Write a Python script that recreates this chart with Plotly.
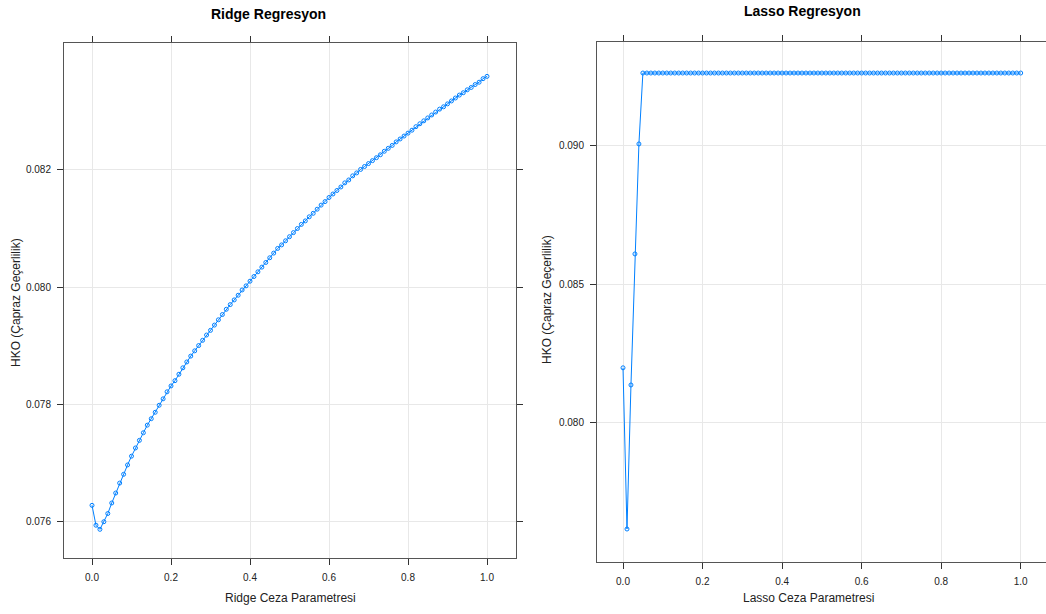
import plotly.graph_objects as go

W, H = 1046, 614

lambda_grid = [round(i * 0.01, 2) for i in range(101)]

ridge_rmse = [
    0.07627, 0.07593, 0.07586, 0.07599, 0.07613, 0.07631, 0.07648, 0.07665, 0.07680, 0.07696,
    0.07711, 0.07725, 0.07738, 0.07751, 0.07764, 0.07775, 0.07786, 0.07798, 0.07809, 0.07821,
    0.07831, 0.07840, 0.07851, 0.07862, 0.07872, 0.07882, 0.07891, 0.07900, 0.07909, 0.07918,
    0.07926, 0.07935, 0.07944, 0.07953, 0.07962, 0.07970, 0.07978, 0.07986, 0.07995, 0.08002,
    0.08010, 0.08018, 0.08026, 0.08034, 0.08042, 0.08050, 0.08058, 0.08066, 0.08072, 0.08079,
    0.08086, 0.08093, 0.08100, 0.08107, 0.08113, 0.08120, 0.08126, 0.08133, 0.08140, 0.08146,
    0.08153, 0.08159, 0.08165, 0.08171, 0.08178, 0.08183, 0.08190, 0.08195, 0.08201, 0.08206,
    0.08211, 0.08216, 0.08221, 0.08226, 0.08232, 0.08237, 0.08242, 0.08248, 0.08253, 0.08258,
    0.08263, 0.08268, 0.08274, 0.08279, 0.08284, 0.08289, 0.08294, 0.08299, 0.08304, 0.08308,
    0.08313, 0.08318, 0.08323, 0.08328, 0.08332, 0.08337, 0.08341, 0.08346, 0.08350, 0.08356,
    0.08360,
]

lasso_rmse = [0.08199, 0.07617, 0.08137, 0.08610, 0.09007] + [0.09263] * 96

ridge_yticks = [0.076, 0.078, 0.080, 0.082]
lasso_yticks = [0.080, 0.085, 0.090]
xticks = [0.0, 0.2, 0.4, 0.6, 0.8, 1.0]

titles = ["Ridge Regresyon", "Lasso Regresyon"]
xlabels = ["Ridge Ceza Parametresi", "Lasso Ceza Parametresi"]
ylabel = "HKO (Çapraz Geçerlilik)"

BLUE = "#0080ff"
FONT = "Liberation Sans, Arial, sans-serif"

def px(x):
    return min(1.0, max(0.0, x / W))

def py(y):
    return min(1.0, max(0.0, 1 - y / H))

fig = go.Figure()
fig.add_trace(go.Scatter(
    x=lambda_grid, y=ridge_rmse, mode="lines+markers", xaxis="x", yaxis="y",
    line=dict(color=BLUE, width=1),
    marker=dict(symbol="circle-open", size=4, color=BLUE, line=dict(width=1, color=BLUE)),
    showlegend=False,
))
fig.add_trace(go.Scatter(
    x=lambda_grid, y=lasso_rmse, mode="lines+markers", xaxis="x2", yaxis="y2",
    line=dict(color=BLUE, width=1),
    marker=dict(symbol="circle-open", size=4, color=BLUE, line=dict(width=1, color=BLUE)),
    showlegend=False,
))

axis_common = dict(
    showline=True, linecolor="#555555", linewidth=1,
    ticks="outside", ticklen=6, tickcolor="#333333", tickwidth=1,
    showgrid=True, gridcolor="#e8e8e8", gridwidth=1,
    zeroline=False, tickfont=dict(family=FONT, size=10, color="#222222"),
    ticklabelstandoff=4,
)

fig.update_layout(
    width=W, height=H,
    margin=dict(l=0, r=0, t=0, b=0),
    paper_bgcolor="white", plot_bgcolor="white",
    xaxis=dict(domain=[px(64), px(516)], anchor="y", range=[-0.0709, 1.0734],
               tickvals=xticks, ticktext=[f"{v:.1f}" for v in xticks], mirror="ticks", **axis_common),
    yaxis=dict(domain=[py(558), py(43)], anchor="x", range=[0.07537, 0.08417],
               tickvals=ridge_yticks, ticktext=[f"{v:.3f}" for v in ridge_yticks], mirror="ticks", **axis_common),
    xaxis2=dict(domain=[px(597), 1.0], anchor="y2", range=[-0.0654, 1.0636],
                tickvals=xticks, ticktext=[f"{v:.1f}" for v in xticks], mirror="ticks", **axis_common),
    yaxis2=dict(domain=[py(562), py(42)], anchor="x2", range=[0.07498, 0.09375],
                tickvals=lasso_yticks, ticktext=[f"{v:.3f}" for v in lasso_yticks], mirror=False, **axis_common),
)

ann = []
ann.append(dict(text=f"<b>{titles[0]}</b>", x=px(268), y=py(14), xref="paper", yref="paper",
                showarrow=False, font=dict(family=FONT, size=14, color="black"), xanchor="center", yanchor="middle"))
ann.append(dict(text=f"<b>{titles[1]}</b>", x=px(802), y=py(11), xref="paper", yref="paper",
                showarrow=False, font=dict(family=FONT, size=14, color="black"), xanchor="center", yanchor="middle"))
ann.append(dict(text=xlabels[0], x=px(290), y=py(598), xref="paper", yref="paper",
                showarrow=False, font=dict(family=FONT, size=12, color="#222222"), xanchor="center", yanchor="middle"))
ann.append(dict(text=xlabels[1], x=px(808), y=py(598), xref="paper", yref="paper",
                showarrow=False, font=dict(family=FONT, size=12, color="#222222"), xanchor="center", yanchor="middle"))
ann.append(dict(text=ylabel, x=px(16), y=py(303), xref="paper", yref="paper", textangle=-90,
                showarrow=False, font=dict(family=FONT, size=12, color="#222222"), xanchor="center", yanchor="middle"))
ann.append(dict(text=ylabel, x=px(547), y=py(300), xref="paper", yref="paper", textangle=-90,
                showarrow=False, font=dict(family=FONT, size=12, color="#222222"), xanchor="center", yanchor="middle"))
fig.update_layout(annotations=ann)

fig.write_html("out.html", config={"displayModeBar": False},
               post_script="document.body.style.margin='0';document.body.style.overflow='hidden';")
